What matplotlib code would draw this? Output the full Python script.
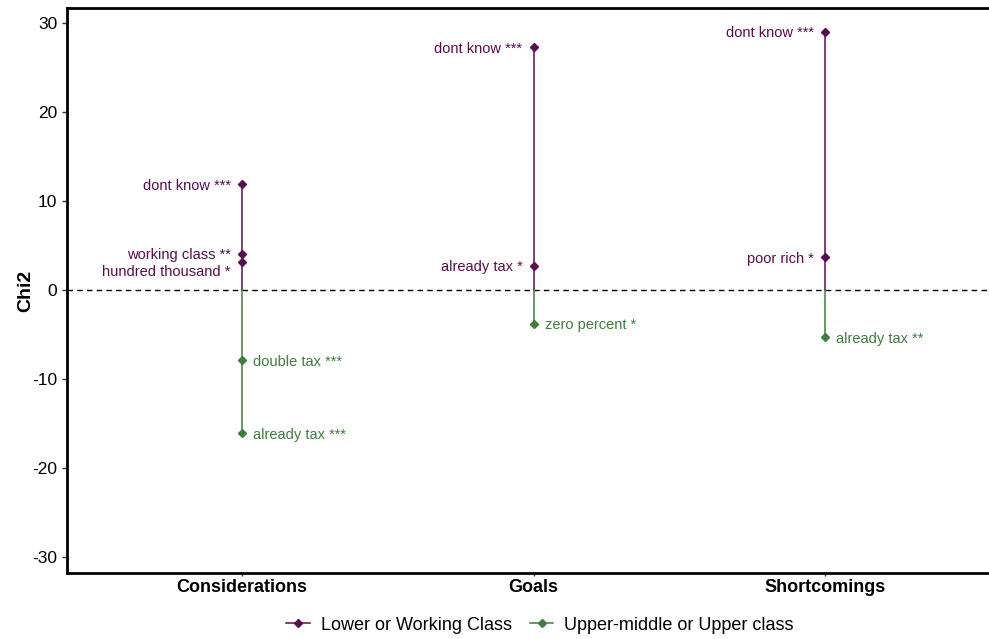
import matplotlib.pyplot as plt
from matplotlib.lines import Line2D

plt.rcParams['font.family'] = ['Liberation Sans', 'DejaVu Sans']
plt.rcParams['axes.unicode_minus'] = False

categories = ['Considerations', 'Goals', 'Shortcomings']

# lower / working class (positive chi2)
lower_cat = ['Considerations', 'Considerations', 'Considerations', 'Goals', 'Goals', 'Shortcomings', 'Shortcomings']
lower_val = [11.9, 4.1, 3.1, 27.3, 2.7, 29.0, 3.7]
lower_lab = ['dont know ***', 'working class **', 'hundred thousand *', 'dont know ***', 'already tax *',
             'dont know ***', 'poor rich *']

# upper-middle / upper class (negative chi2)
upper_cat = ['Considerations', 'Considerations', 'Goals', 'Shortcomings']
upper_val = [-7.9, -16.1, -3.8, -5.3]
upper_lab = ['double tax ***', 'already tax ***', 'zero percent *', 'already tax **']

purple = '#5a0c50'
green = '#3f7f3c'

fig = plt.figure(figsize=(9.89, 6.39), dpi=100)
ax = fig.add_axes([67 / 989, 1 - 573 / 639, 933 / 989, 565 / 639])

pos = {c: i + 1 for i, c in enumerate(categories)}

for c in categories:
    lv = [v for cc, v in zip(lower_cat, lower_val) if cc == c]
    uv = [v for cc, v in zip(upper_cat, upper_val) if cc == c]
    if lv:
        ax.plot([pos[c], pos[c]], [0, max(lv)], color=purple, lw=1.1, zorder=2)
    if uv:
        ax.plot([pos[c], pos[c]], [0, min(uv)], color=green, lw=1.1, zorder=2)

ax.plot([pos[c] for c in lower_cat], lower_val, 'D', color=purple, ms=4.5, zorder=3)
ax.plot([pos[c] for c in upper_cat], upper_val, 'D', color=green, ms=4.5, zorder=3)

# repel the two close labels apart a little, like ggrepel does
nudge = {'working class **': -1, 'hundred thousand *': -7}
for c, v, t in zip(lower_cat, lower_val, lower_lab):
    ax.annotate(t, (pos[c], v), xytext=(-8, nudge.get(t, -1)), textcoords='offset points',
                ha='right', va='center', color=purple, fontsize=10.5)
for c, v, t in zip(upper_cat, upper_val, upper_lab):
    ax.annotate(t, (pos[c], v), xytext=(8, -1), textcoords='offset points',
                ha='left', va='center', color=green, fontsize=10.5)

ax.axhline(0, color='black', lw=1, ls=(0, (4, 3)), zorder=1)

ax.set_xlim(0.4, 3.6)
ax.set_ylim(-31.8, 31.7)
ax.set_xticks([1, 2, 3])
ax.set_xticklabels(categories, fontsize=13, fontweight='bold')
ax.set_yticks([-30, -20, -10, 0, 10, 20, 30])
ax.tick_params(axis='y', labelsize=12.5, length=3.5, width=1, colors='#333333', labelcolor='black')
ax.tick_params(axis='x', length=2.5, width=1, colors='#333333', labelcolor='black', pad=2)
ax.set_ylabel('Chi2', fontsize=14, fontweight='bold')
ax.yaxis.set_label_coords(-33 / 933, 0.5)

for s in ['left', 'bottom', 'top', 'right']:
    ax.spines[s].set_linewidth(2)
    ax.spines[s].set_color('black')

handles = [
    Line2D([0], [0], color=purple, marker='D', ms=4, lw=1.1, label='Lower or Working Class'),
    Line2D([0], [0], color=green, marker='D', ms=4, lw=1.1, label='Upper-middle or Upper class'),
]
fig.legend(handles=handles, loc='center', bbox_to_anchor=(540 / 989, 1 - 625 / 639), ncol=2,
           frameon=False, fontsize=13, handlelength=1.3, handletextpad=0.6, columnspacing=1.0)

fig.savefig('out.png', dpi=100)
